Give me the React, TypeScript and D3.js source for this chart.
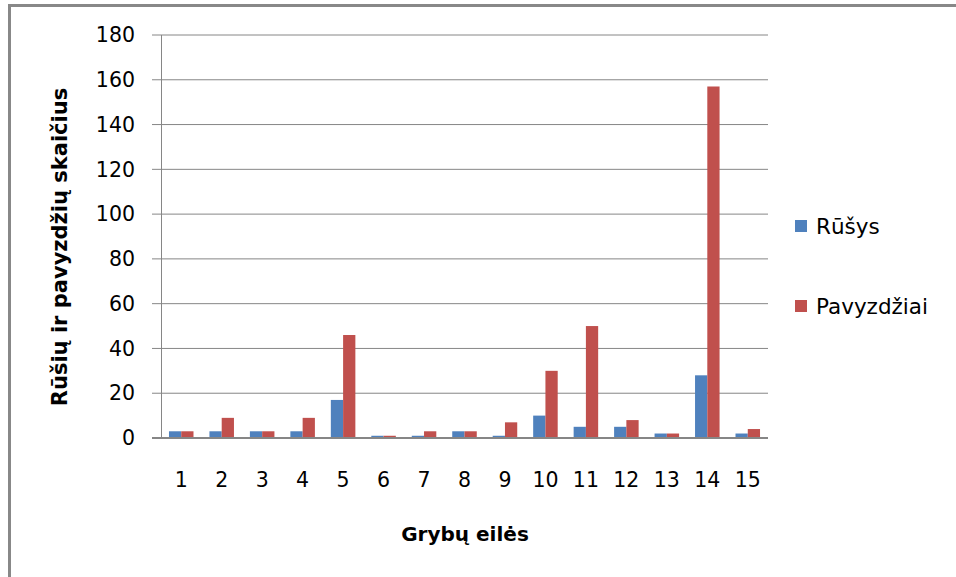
import React from "react";
import * as d3 from "d3";

const categories = ["1", "2", "3", "4", "5", "6", "7", "8", "9", "10", "11", "12", "13", "14", "15"];
const rusys = [3, 3, 3, 3, 17, 1, 1, 3, 1, 10, 5, 5, 2, 28, 2];
const pavyzdziai = [3, 9, 3, 9, 46, 1, 3, 3, 7, 30, 50, 8, 2, 157, 4];
const seriesNames = ["Rūšys", "Pavyzdžiai"];
const seriesColors = ["#4F81BD", "#C0504D"];
const yTicks = [0, 20, 40, 60, 80, 100, 120, 140, 160, 180];
const xTitle = "Grybų eilės";
const yTitle = "Rūšių ir pavyzdžių skaičius";

export default function App() {
  const W = 956, H = 577;
  const left = 161, right = 768, top = 35, bottom = 438;
  const x = d3.scaleBand<string>().domain(categories).range([left, right]).padding(0);
  const x1 = d3.scaleBand<number>().domain([0, 1]).range([0, x.bandwidth()]).paddingInner(0).paddingOuter(0.65);
  const y = d3.scaleLinear().domain([0, 180]).range([bottom, top]);
  const series = [rusys, pavyzdziai];
  const font = "'DejaVu Sans', sans-serif";
  const grid = "#868686";

  return (
    <svg width={W} height={H} style={{ position: "absolute", left: 0, top: 0, display: "block", background: "#fff" }}>
      <rect x={9.5} y={5.5} width={W + 20} height={H + 20} fill="none" stroke="#888" strokeWidth={3} />
      {yTicks.map((t) => (
        <g key={t}>
          {t !== 0 && <line x1={152} x2={right} y1={y(t)} y2={y(t)} stroke={grid} strokeWidth={1} />}
          <text x={135} y={y(t)} dy="0.35em" textAnchor="end" fontFamily={font} fontSize={20.5} fill="#000">{t}</text>
        </g>
      ))}
      <line x1={left + 0.5} x2={left + 0.5} y1={top} y2={bottom} stroke={grid} strokeWidth={1} />
      {categories.map((c, i) => (
        <g key={c}>
          {series.map((s, j) => (
            <rect key={j} x={(x(c) as number) + (x1(j) as number)} y={y(s[i])} width={x1.bandwidth()} height={bottom - y(s[i])} fill={seriesColors[j]} />
          ))}
          <text x={(x(c) as number) + x.bandwidth() / 2} y={480} dy="0.35em" textAnchor="middle" fontFamily={font} fontSize={20.5} fill="#000">{c}</text>
        </g>
      ))}
      <line x1={152} x2={right} y1={bottom} y2={bottom} stroke={grid} strokeWidth={2} />
      <text x={465} y={534} dy="0.35em" textAnchor="middle" fontFamily={font} fontSize={20} fontWeight="bold" fill="#000">{xTitle}</text>
      <text transform={`translate(60,247) rotate(-90)`} dy="0.35em" textAnchor="middle" fontFamily={font} fontSize={21} fontWeight="bold" fill="#000">{yTitle}</text>
      {seriesNames.map((n, j) => (
        <g key={n} transform={`translate(795, ${226 + j * 80})`}>
          <rect x={0} y={-6} width={12} height={12} fill={seriesColors[j]} />
          <text x={21} y={0} dy="0.35em" fontFamily={font} fontSize={21.5} fill="#000">{n}</text>
        </g>
      ))}
    </svg>
  );
}
